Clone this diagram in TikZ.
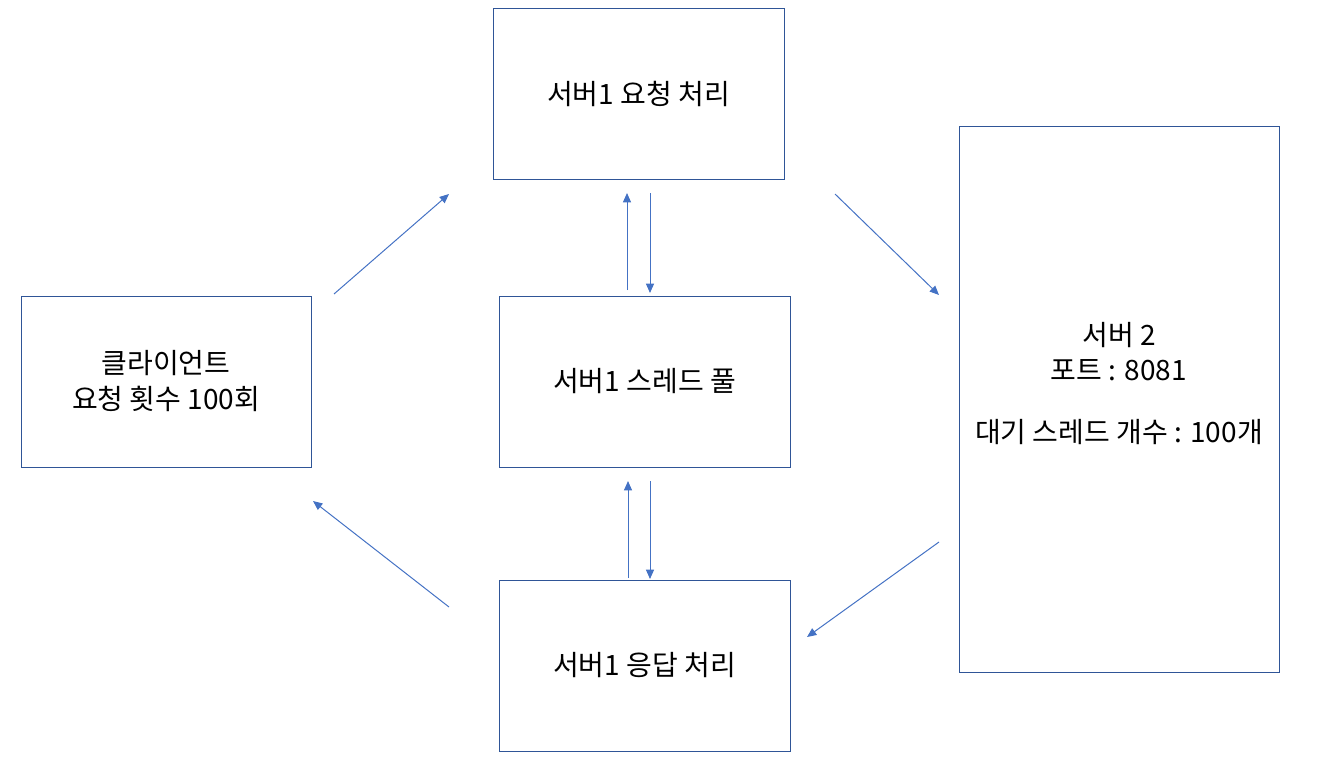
\documentclass[tikz,border=0pt]{standalone}
\usepackage{fontspec}
\setmainfont{Noto Sans CJK KR}
\usetikzlibrary{arrows.meta}
\definecolor{boxline}{HTML}{2F5597}
\definecolor{arrowc}{HTML}{4472C4}
\tikzset{
  box/.style={draw=boxline, line width=0.6pt, fill=white, inner sep=0pt, align=center, font=\fontsize{21}{27}\selectfont},
  txt/.style={inner sep=0pt, align=center, font=\fontsize{21}{26.25}\selectfont},
  conn/.style={draw=arrowc, line width=0.75pt, -{Triangle[length=7pt,width=6pt]}},
}
\begin{document}
\begin{tikzpicture}[x=0.75pt,y=-0.75pt]
\useasboundingbox (0,0) rectangle (1337,757);
\node[box, minimum width=291*0.75pt, minimum height=171*0.75pt] (req) at (638.5,93.5) {서버1 요청 처리};
\node[box, minimum width=291*0.75pt, minimum height=171*0.75pt] (pool) at (644.5,381.5) {서버1 스레드 풀};
\node[box, minimum width=291*0.75pt, minimum height=171*0.75pt] (resp) at (644.5,665.5) {서버1 응답 처리};
\node[box, minimum width=290*0.75pt, minimum height=171*0.75pt] (client) at (166,381.5) {클라이언트\\요청 횟수 100회};
\node[box, minimum width=320*0.75pt, minimum height=546*0.75pt] (srv2) at (1119,399) {};
\node[txt] (srv2txt) at (1119,383.5) {서버 2\\포트 : 8081\\[20.25pt]대기 스레드 개수 : 100개};
% free ends
\coordinate (a1s) at (334,294); \coordinate (a1e) at (449,194);
\coordinate (a2s) at (835,194); \coordinate (a2e) at (939,295);
\coordinate (a3s) at (939,542); \coordinate (a3e) at (807,637);
\coordinate (a4s) at (449,607); \coordinate (a4e) at (313,501);
\coordinate (u1s) at (627,290); \coordinate (u1e) at (627,193);
\coordinate (d1s) at (650,193); \coordinate (d1e) at (650,293);
\coordinate (u2s) at (628,578); \coordinate (u2e) at (628,481);
\coordinate (d2s) at (650,481); \coordinate (d2e) at (650,579);
\draw[conn] (a1s) -- (a1e);
\draw[conn] (a2s) -- (a2e);
\draw[conn] (a3s) -- (a3e);
\draw[conn] (a4s) -- (a4e);
\draw[conn] (u1s) -- (u1e);
\draw[conn] (d1s) -- (d1e);
\draw[conn] (u2s) -- (u2e);
\draw[conn] (d2s) -- (d2e);
\end{tikzpicture}
\end{document}
